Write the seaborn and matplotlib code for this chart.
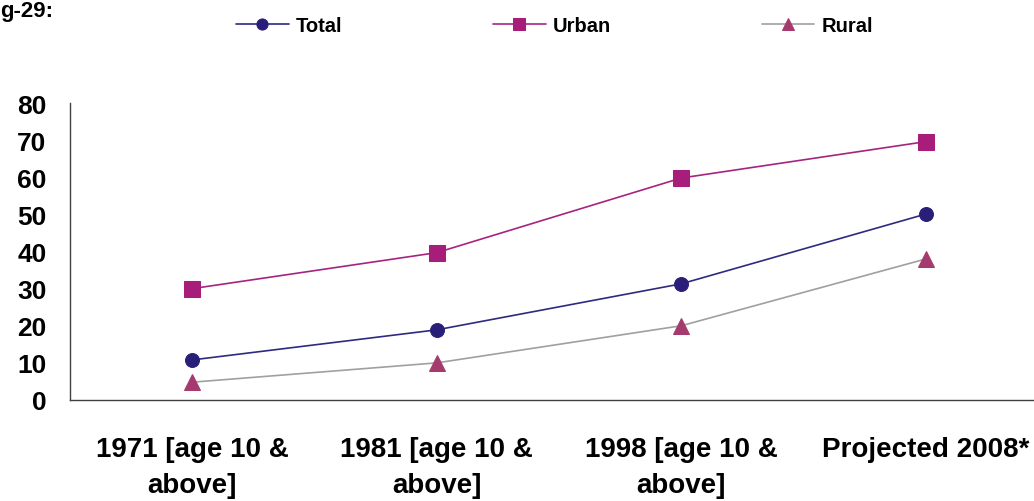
import numpy as np
import pandas as pd
import matplotlib
matplotlib.use('Agg')
import matplotlib.pyplot as plt
import seaborn as sns

# data
categories = ['1971 [age 10 &\nabove]', '1981 [age 10 &\nabove]',
              '1998 [age 10 &\nabove]', 'Projected 2008*']
total = [10.8, 18.9, 31.3, 50.1]
urban = [30.0, 39.7, 59.8, 69.6]
rural = [4.8, 10.0, 20.0, 38.0]

sns.set_style('white')
plt.rcParams['font.family'] = ['Liberation Sans', 'DejaVu Sans']
plt.rcParams['text.color'] = 'black'
plt.rcParams['xtick.labelcolor'] = 'black'
plt.rcParams['ytick.labelcolor'] = 'black'

fig = plt.figure(figsize=(10.34, 5.02), dpi=100)
ax = fig.add_axes([0.0677, 0.2012, 0.946, 0.5916])

x = np.arange(len(categories))
df = pd.DataFrame({'x': x, 'Total': total, 'Urban': urban, 'Rural': rural})

sns.lineplot(data=df, x='x', y='Total', ax=ax, color='#2E2A80', lw=1.2,
             marker='o', markersize=10, markerfacecolor='#2A1F78',
             markeredgecolor='#2A1F78', label='Total')
sns.lineplot(data=df, x='x', y='Urban', ax=ax, color='#A8237F', lw=1.2,
             marker='s', markersize=11, markerfacecolor='#A61E7A',
             markeredgecolor='#A61E7A', label='Urban')
sns.lineplot(data=df, x='x', y='Rural', ax=ax, color='#A0A0A0', lw=1.2,
             marker='^', markersize=11.5, markerfacecolor='#A53A6E',
             markeredgecolor='#A53A6E', label='Rural')

ax.set_xlim(-0.5, 3.5)
ax.set_ylim(0, 80)
ax.set_yticks(range(0, 81, 10))
ax.set_xlabel('')
ax.set_ylabel('')

for s in ['top', 'right']:
    ax.spines[s].set_visible(False)
for s in ['left', 'bottom']:
    ax.spines[s].set_color('#404040')
    ax.spines[s].set_linewidth(1.0)

ax.tick_params(axis='y', direction='in', length=7, width=1, color='#404040',
               pad=17, labelsize=19)
for t in ax.get_yticklabels():
    t.set_fontweight('bold')

ax.set_xticks(x)
ax.set_xticklabels(categories, fontsize=20, fontweight='bold', linespacing=1.5)
ax.set_xticks([0.5, 1.5, 2.5], minor=True)
ax.tick_params(axis='x', which='major', length=0, pad=26)
ax.tick_params(axis='x', which='minor', direction='out', length=7, width=1,
               color='#404040')

handles, labels = ax.get_legend_handles_labels()
ax.get_legend().remove()
fig.legend(handles, labels, loc='center left', bbox_to_anchor=(0.211, 0.948),
           ncol=3, frameon=False, handlelength=2.6, handletextpad=0.35,
           columnspacing=7.5, markerscale=0.8,
           prop={'weight': 'bold', 'size': 14.5})

fig.text(0.0, 0.966, 'g-29:', fontsize=16, fontweight='bold', ha='left', va='baseline')

fig.savefig('out.png', dpi=100)
